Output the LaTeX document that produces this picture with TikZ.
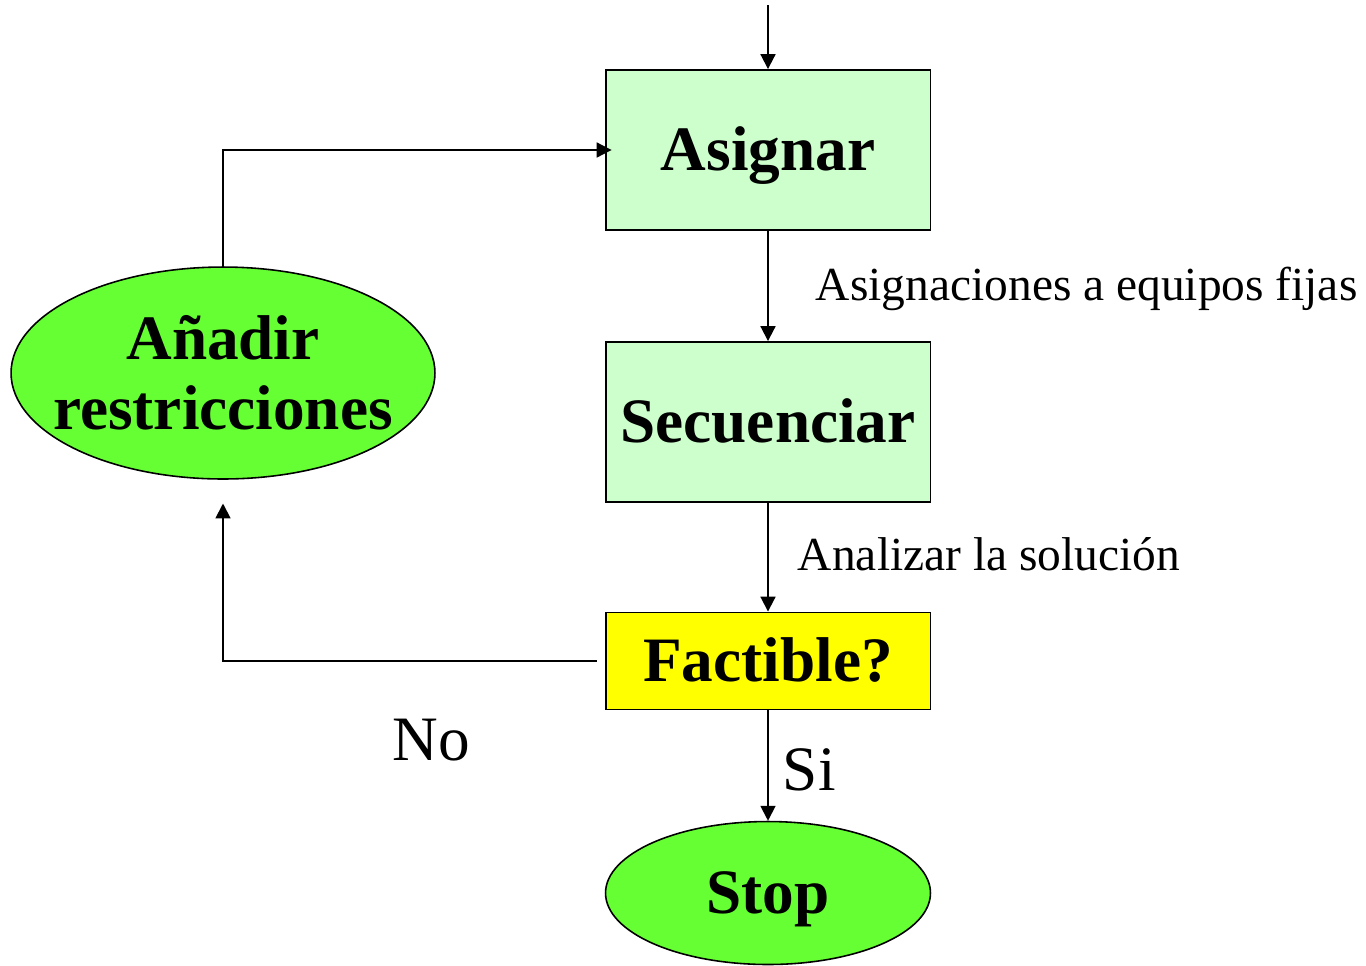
\documentclass[tikz,border=0pt]{standalone}
\usepackage{fontspec}
\setmainfont{Liberation Serif}
\usetikzlibrary{
    arrows.meta,
    shapes.geometric
}
\definecolor{verdeclaro}{HTML}{CCFFCC}
\definecolor{verde}{HTML}{66FF33}
\definecolor{amarillo}{HTML}{FFFF00}
\tikzset{
  every path/.style={
    black,
    line width=1.1pt
  },
  flecha/.style={
    -{Triangle[length=8.5pt,width=8.5pt]}
  },
  paso/.style={
    draw,
    fill=verdeclaro,
    minimum width=6.5cm,
    minimum height=3.2cm,
    text height=29.5pt,
    text depth=6.5pt,
    font=\bfseries\fontsize{36}{40}\selectfont
  },
  pregunta/.style={
    paso,
    fill=amarillo,
    minimum height=1.94cm
  },
  fin/.style={
    ellipse,
    draw,
    line width=0.9pt,
    fill=verde,
    inner sep=0pt,
    font=\bfseries\fontsize{36}{40}\selectfont
  },
  nota/.style={
    inner sep=0pt,
    anchor=base west,
    font=\fontsize{27}{30}\selectfont
  },
  rama/.style={
    nota,
    font=\fontsize{36}{40}\selectfont
  }
}

\begin{document}
\begin{tikzpicture}[x=0.02cm,y=-0.02cm]
\useasboundingbox (0,0) rectangle (1366,965);

% main chain
\coordinate (entrada) at (768,5);
\node[paso] (asignar) at (768,150) {Asignar};
\node[paso] (secuenciar) at (768,422) {Secuenciar};
\node[pregunta] (factible) at (768,661) {Factible?};
\node[fin, minimum width=6.5cm, minimum height=2.86cm,
  text height=29.5pt, text depth=6.5pt] (stop) at (768,893) {Stop};

% loop back
\node[fin, minimum width=8.48cm, minimum height=4.24cm,
  label={[align=center, inner sep=0pt, font=\bfseries\fontsize{36}{40}\selectfont]center:A\~nadir\\restricciones}]
  (anadir) at (223,373) {};

\draw[flecha] (entrada) -- (asignar.north);
\draw[flecha] (asignar) -- (secuenciar);
\draw[flecha] (secuenciar) -- (factible);
\draw[flecha] (factible) -- (stop);
\draw[flecha, shorten <=4.5pt, shorten >=13.5pt] (factible.west) -| (anadir.south);
\draw[flecha, shorten >=-4pt] (anadir.north) |- (asignar.west);

% texts on the arrows
\node[nota] (fijas) at (815,300) {Asignaciones a equipos fijas};
\node[nota] (analizar) at (797,570) {Analizar la solución};
\node[rama] (si) at (782,790) {Si};
\node[rama] (no) at (392,760) {No};
\end{tikzpicture}
\end{document}
